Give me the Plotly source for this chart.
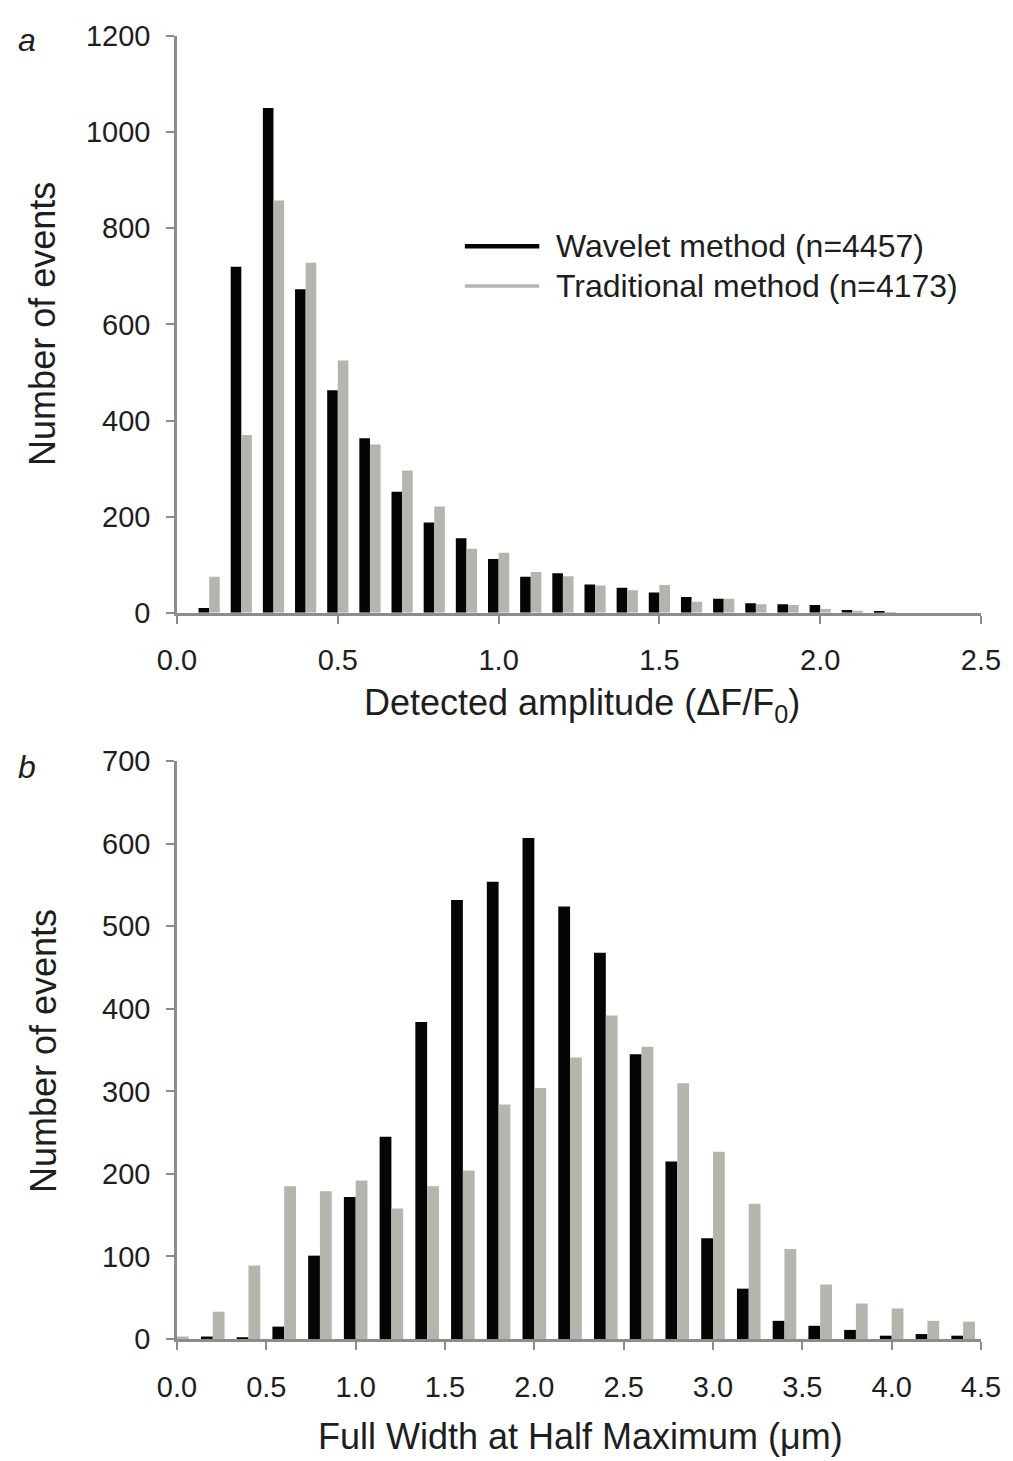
import plotly.graph_objects as go
from plotly.subplots import make_subplots

# ---- data: panel a (detected amplitude) ----
amp_bins = [0.1, 0.2, 0.3, 0.4, 0.5, 0.6, 0.7, 0.8, 0.9, 1.0, 1.1,
            1.2, 1.3, 1.4, 1.5, 1.6, 1.7, 1.8, 1.9, 2.0, 2.1, 2.2]
amp_wavelet = [10, 720, 1050, 673, 463, 363, 252, 188, 155, 112, 75,
               82, 59, 52, 42, 33, 29, 20, 18, 16, 6, 2]
amp_traditional = [75, 370, 858, 728, 525, 350, 296, 221, 133, 125, 85,
                   76, 57, 47, 58, 23, 29, 18, 16, 8, 4, 1]

# ---- data: panel b (FWHM) ----
fwhm_bins = [0.0, 0.2, 0.4, 0.6, 0.8, 1.0, 1.2, 1.4, 1.6, 1.8, 2.0, 2.2,
             2.4, 2.6, 2.8, 3.0, 3.2, 3.4, 3.6, 3.8, 4.0, 4.2, 4.4]
fwhm_wavelet = [0, 3, 2, 15, 101, 172, 245, 384, 532, 554, 607, 524,
                468, 345, 215, 122, 61, 22, 16, 11, 4, 6, 4]
fwhm_traditional = [3, 33, 89, 185, 179, 192, 158, 185, 204, 284, 304, 341,
                    392, 354, 310, 227, 164, 109, 66, 43, 37, 22, 21]

series_names = ["Wavelet method (n=4457)", "Traditional method (n=4173)"]
x_title_a = "Detected amplitude (ΔF/F<sub>0</sub>)"
x_title_b = "Full Width at Half Maximum (μm)"
y_title = "Number of events"

BLACK = "#050505"
GRAY = "#b5b5ad"
AXIS = "#8c8c8c"
FONT = "Liberation Sans, Arial, sans-serif"
TXT = "#1e1e1e"

OFF = 8  # page body margin
W, H = 1005, 1453
L, R, T, B = 169, 26, 23, 122
PW, PH = W - L - R, H - T - B


def px(xs):
    """screen x pixel -> paper fraction"""
    return (xs - OFF - L) / PW


def py(ys):
    """screen y pixel -> paper fraction"""
    return (H - B - (ys - OFF)) / PH


fig = make_subplots(rows=2, cols=1, vertical_spacing=0.0)

fig.add_trace(go.Bar(x=amp_bins, y=amp_wavelet, marker_color=BLACK,
                     marker_line_width=0, showlegend=False, name=series_names[0]),
              row=1, col=1)
fig.add_trace(go.Bar(x=amp_bins, y=amp_traditional, marker_color=GRAY,
                     marker_line_width=0, showlegend=False, name=series_names[1]),
              row=1, col=1)
fig.add_trace(go.Bar(x=fwhm_bins, y=fwhm_wavelet, marker_color=BLACK,
                     marker_line_width=0, showlegend=False, name=series_names[0]),
              row=2, col=1)
fig.add_trace(go.Bar(x=fwhm_bins, y=fwhm_traditional, marker_color=GRAY,
                     marker_line_width=0, showlegend=False, name=series_names[1]),
              row=2, col=1)

top_dom = [py(610), 1.0]
bot_dom = [0.0, py(759)]

axis_common = dict(showline=True, linecolor=AXIS, linewidth=2.5,
                   ticks="outside", tickcolor=AXIS, tickwidth=2, ticklen=8,
                   showgrid=False, zeroline=False,
                   tickfont=dict(family=FONT, size=29, color=TXT))

fig.update_xaxes(range=[0, 2.5], dtick=0.5, tick0=0, tickformat=".1f",
                 domain=[0, 1], ticklabelstandoff=12, **axis_common, row=1, col=1)
fig.update_xaxes(range=[0, 4.5], dtick=0.5, tick0=0, tickformat=".1f",
                 domain=[0, 1], ticklabelstandoff=12, **axis_common, row=2, col=1)
fig.update_yaxes(range=[0, 1200], dtick=200, domain=top_dom,
                 ticklabelstandoff=10, **axis_common, row=1, col=1)
fig.update_yaxes(range=[0, 700], dtick=100, domain=bot_dom,
                 ticklabelstandoff=10, **axis_common, row=2, col=1)

annotations = [
    dict(text="<i>a</i>", x=px(26), y=py(35), font=dict(size=32, family=FONT, color=TXT)),
    dict(text="<i>b</i>", x=px(26), y=py(765), font=dict(size=32, family=FONT, color=TXT)),
    dict(text=y_title, x=px(42), y=py(320), textangle=-90,
         font=dict(size=36, family=FONT, color=TXT)),
    dict(text=y_title, x=px(42), y=py(1050), textangle=-90,
         font=dict(size=36, family=FONT, color=TXT)),
    dict(text=x_title_a, x=px(585), y=py(703),
         font=dict(size=36, family=FONT, color=TXT)),
    dict(text=x_title_b, x=px(584), y=py(1437),
         font=dict(size=36, family=FONT, color=TXT)),
]
for a in annotations:
    a.update(xref="paper", yref="paper", showarrow=False,
             xanchor="center", yanchor="middle")

# legend (drawn manually as line + label)
leg_rows = [(242, BLACK, 4.5), (282, GRAY, 3.5)]
shapes = []
for (yy, col, lw), name in zip(leg_rows, series_names):
    shapes.append(dict(type="line", xref="paper", yref="paper",
                       x0=px(467), x1=px(542), y0=py(yy), y1=py(yy),
                       line=dict(color=col, width=lw)))
    annotations.append(dict(text=name, xref="paper", yref="paper",
                            x=px(557), y=py(yy), xanchor="left", yanchor="middle",
                            showarrow=False,
                            font=dict(size=32, family=FONT, color=TXT)))

fig.update_layout(
    width=W, height=H,
    margin=dict(l=L, r=R, t=T, b=B),
    paper_bgcolor="white", plot_bgcolor="white",
    barmode="group", bargap=0.34, bargroupgap=0.0,
    annotations=annotations, shapes=shapes,
    showlegend=False,
    font=dict(family=FONT, color=TXT),
)

fig.write_html("out.html")
